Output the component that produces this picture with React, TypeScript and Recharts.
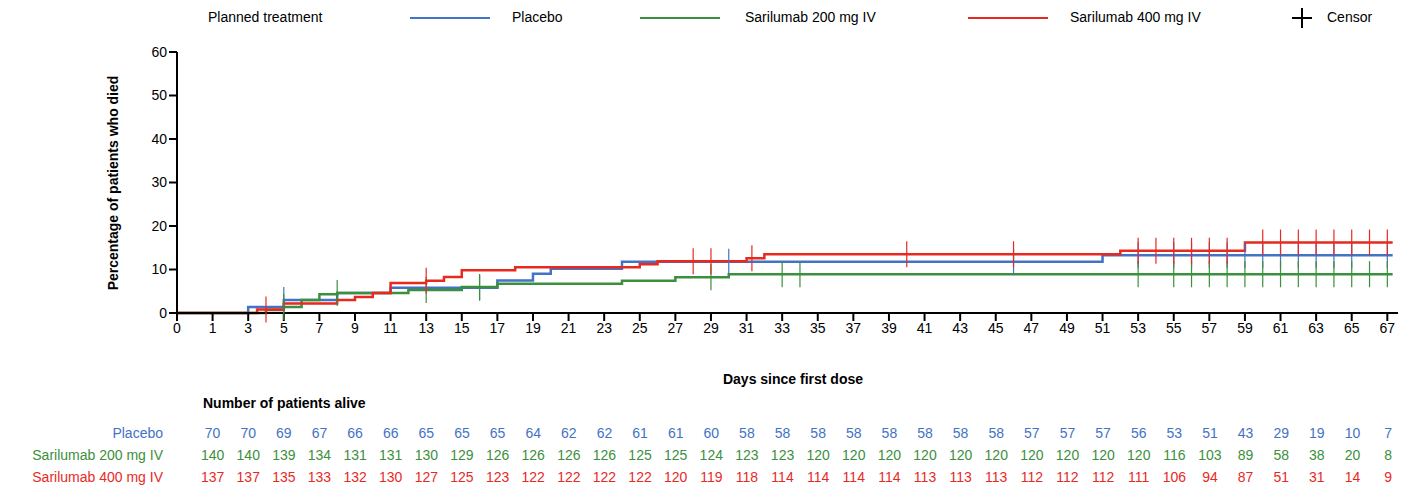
import React from 'react';
import { ComposedChart, Line, Scatter, XAxis, YAxis } from 'recharts';

const BLUE = '#4472C4';
const GREEN = '#3C8F3C';
const RED = '#E8291F';

// x axis categories (days) - each label occupies one equal slot
const dayTicks = [0, 1, 3, 5, 7, 9, 11, 13, 15, 17, 19, 21, 23, 25, 27, 29, 31, 33, 35, 37, 39, 41, 43, 45, 47, 49, 51, 53, 55, 57, 59, 61, 63, 65, 67];

// step curves: [day, percent]
const placeboSteps = [[0, 0], [3, 1.4], [5, 3.0], [8, 4.6], [11, 5.8], [17, 7.5], [19, 9.0], [20, 10.2], [24, 11.8], [51, 13.3], [67.3, 13.3]];
const sar200Steps = [[0, 0], [4, 0.7], [5, 1.4], [6, 3.0], [7, 4.3], [8, 4.6], [11, 4.6], [12, 5.3], [15, 6.0], [17, 6.7], [24, 7.4], [27, 8.2], [30, 8.9], [67.3, 8.9]];
const sar400Steps = [[0, 0], [3.5, 0.8], [5, 2.2], [8, 3.0], [9, 3.7], [10, 4.6], [11, 6.9], [13, 7.4], [14, 8.3], [15, 9.8], [18, 10.5], [25, 11.2], [26, 11.9], [31, 12.6], [32, 13.5], [52, 14.3], [59, 16.2], [67.3, 16.2]];

const placeboCensor = [[5, 3.0], [16, 5.8], [30, 11.8], [46, 11.8], [53, 13.3], [55, 13.3], [56, 13.3], [57, 13.3], [58, 13.3], [59, 13.3], [60, 13.3], [61, 13.3], [62, 13.3], [63, 13.3], [64, 13.3], [65, 13.3], [67, 13.3]];
const sar200Censor = [[5, 1.4], [8, 4.6], [13, 5.3], [16, 6.0], [29, 8.2], [33, 8.9], [34, 8.9], [53, 8.9], [55, 8.9], [56, 8.9], [57, 8.9], [58, 8.9], [59, 8.9], [60, 8.9], [61, 8.9], [62, 8.9], [63, 8.9], [64, 8.9], [65, 8.9], [66, 8.9], [67, 8.9]];
const sar400Censor = [[4, 0.8], [13, 7.4], [28, 11.9], [29, 11.9], [31.3, 12.6], [40, 13.5], [46, 13.5], [53, 14.3], [54, 14.3], [55, 14.3], [56, 14.3], [57, 14.3], [58, 14.3], [60, 16.2], [61, 16.2], [62, 16.2], [63, 16.2], [64, 16.2], [65, 16.2], [66, 16.2], [67, 16.2]];

const atRiskPlacebo = [70, 70, 69, 67, 66, 66, 65, 65, 65, 64, 62, 62, 61, 61, 60, 58, 58, 58, 58, 58, 58, 58, 58, 57, 57, 57, 56, 53, 51, 43, 29, 19, 10, 7];
const atRisk200 = [140, 140, 139, 134, 131, 131, 130, 129, 126, 126, 126, 126, 125, 125, 124, 123, 123, 120, 120, 120, 120, 120, 120, 120, 120, 120, 120, 116, 103, 89, 58, 38, 20, 8];
const atRisk400 = [137, 137, 135, 133, 132, 130, 127, 125, 123, 122, 122, 122, 122, 120, 119, 118, 114, 114, 114, 114, 113, 113, 113, 112, 112, 112, 111, 106, 94, 87, 51, 31, 14, 9];

const pos = (d: number) => (d < 1 ? d : (d + 1) / 2);
const toPts = (a: number[][]) => a.map(([d, y]) => ({ x: pos(d), y }));

const PLOT_L = 177;
const SLOT = 35.62;
const FONT = '"Liberation Sans", Arial, sans-serif';

const CensorMark = (color: string) => (p: any) => (
  <line x1={p.cx} x2={p.cx} y1={p.cy - 13} y2={p.cy + 13} stroke={color} strokeWidth={1.2} />
);

const riskRows = [
  { label: 'Placebo', color: BLUE, values: atRiskPlacebo, y: 434 },
  { label: 'Sarilumab 200 mg IV', color: GREEN, values: atRisk200, y: 456 },
  { label: 'Sarilumab 400 mg IV', color: RED, values: atRisk400, y: 478 },
];

const LegendLine = ({ x, color }: { x: number; color: string }) => (
  <div style={{ position: 'absolute', left: x, top: 17, width: 80, height: 2, background: color }} />
);

export default function App() {
  return (
    <div style={{ position: 'absolute', left: 0, top: 0, width: 1410, height: 485, fontFamily: FONT, background: '#fff', overflow: 'hidden' }}>
      <ComposedChart width={1410} height={485} margin={{ top: 52, right: 12, bottom: 142, left: 100 }}>
        <XAxis
          type="number"
          dataKey="x"
          domain={[0, 34.3]}
          ticks={dayTicks.map((_, i) => i)}
          tickFormatter={(v: number) => String(dayTicks[v])}
          interval={0}
          allowDataOverflow
          stroke="#000"
          strokeWidth={2}
          tickSize={8}
          tick={{ fill: '#000', fontSize: 14, fontFamily: FONT }}
          height={30}
        />
        <YAxis
          type="number"
          dataKey="y"
          domain={[0, 60]}
          ticks={[0, 10, 20, 30, 40, 50, 60]}
          width={77}
          stroke="#000"
          strokeWidth={2}
          tickSize={8}
          tick={{ fill: '#000', fontSize: 14, fontFamily: FONT }}
        />
        <Line data={toPts(placeboSteps)} dataKey="y" type="stepAfter" stroke={BLUE} strokeWidth={2.5} dot={false} isAnimationActive={false} />
        <Line data={toPts(sar200Steps)} dataKey="y" type="stepAfter" stroke={GREEN} strokeWidth={2.5} dot={false} isAnimationActive={false} />
        <Line data={toPts(sar400Steps)} dataKey="y" type="stepAfter" stroke={RED} strokeWidth={2.5} dot={false} isAnimationActive={false} />
        <Scatter data={toPts(placeboCensor)} shape={CensorMark(BLUE)} isAnimationActive={false} />
        <Scatter data={toPts(sar200Censor)} shape={CensorMark(GREEN)} isAnimationActive={false} />
        <Scatter data={toPts(sar400Censor)} shape={CensorMark(RED)} isAnimationActive={false} />
      </ComposedChart>

      {/* legend */}
      <div style={{ position: 'absolute', left: 208, top: 9, fontSize: 14 }}>Planned treatment</div>
      <LegendLine x={410} color={BLUE} />
      <div style={{ position: 'absolute', left: 512, top: 9, fontSize: 14 }}>Placebo</div>
      <LegendLine x={640} color={GREEN} />
      <div style={{ position: 'absolute', left: 745, top: 9, fontSize: 14 }}>Sarilumab 200 mg IV</div>
      <LegendLine x={968} color={RED} />
      <div style={{ position: 'absolute', left: 1070, top: 9, fontSize: 14 }}>Sarilumab 400 mg IV</div>
      <div style={{ position: 'absolute', left: 1292, top: 8, width: 20, height: 20 }}>
        <div style={{ position: 'absolute', left: 9, top: 0, width: 1.5, height: 20, background: '#000' }} />
        <div style={{ position: 'absolute', left: 0, top: 9, width: 20, height: 1.5, background: '#000' }} />
      </div>
      <div style={{ position: 'absolute', left: 1327, top: 9, fontSize: 14 }}>Censor</div>

      {/* axis titles */}
      <div style={{ position: 'absolute', left: 113, top: 183, transform: 'translate(-50%,-50%) rotate(-90deg)', whiteSpace: 'nowrap', fontSize: 14, fontWeight: 'bold' }}>
        Percentage of patients who died
      </div>
      <div style={{ position: 'absolute', left: 793, top: 371, transform: 'translateX(-50%)', fontSize: 14, fontWeight: 'bold' }}>
        Days since first dose
      </div>

      {/* number at risk table */}
      <div style={{ position: 'absolute', left: 203, top: 395, fontSize: 14, fontWeight: 'bold' }}>Number of patients alive</div>
      {riskRows.map((r) => (
        <React.Fragment key={r.label}>
          <div style={{ position: 'absolute', right: 1410 - 163, top: r.y - 9, fontSize: 14, color: r.color, whiteSpace: 'nowrap' }}>{r.label}</div>
          {r.values.map((v, i) => (
            <div key={i} style={{ position: 'absolute', left: PLOT_L + SLOT * (i + 1), top: r.y - 9, transform: 'translateX(-50%)', fontSize: 14, color: r.color }}>
              {v}
            </div>
          ))}
        </React.Fragment>
      ))}
    </div>
  );
}
